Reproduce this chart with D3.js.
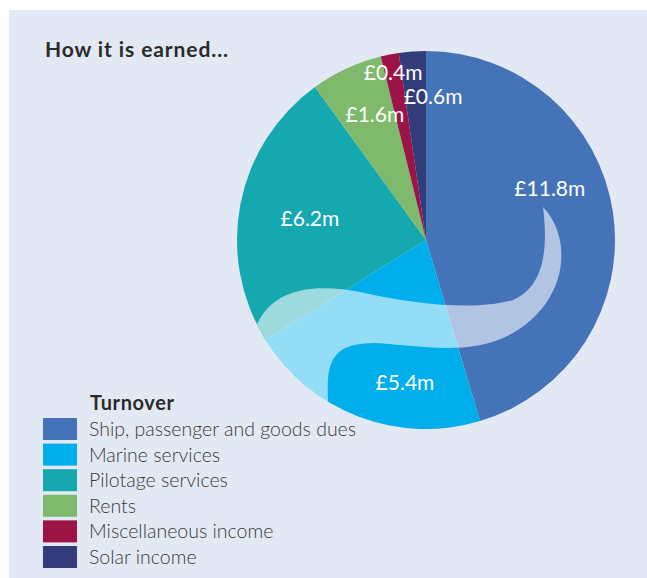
<!DOCTYPE html>
<html>
<head>
<meta charset="utf-8">
<script src="https://cdn.jsdelivr.net/npm/d3@7"></script>
<style>
  body { margin: 0; background: #fff; }
  svg { display: block; }
</style>
</head>
<body>
<svg id="chart" width="647" height="578"></svg>
<script>
const categories = [
  'Ship, passenger and goods dues',
  'Marine services',
  'Pilotage services',
  'Rents',
  'Miscellaneous income',
  'Solar income'
]
const values = [11.8, 5.4, 6.2, 1.6, 0.4, 0.6]
const labels = ['£11.8m', '£5.4m', '£6.2m', '£1.6m', '£0.4m', '£0.6m']
const colors = ['#4573b8', '#00aeeb', '#16a8af', '#7fba6c', '#9b1445', '#323c7a']

// where each value label sits: fraction of radius, and shift of angle within its slice
const labelRadius = [0.71, 0.765, 0.625, 0.714, 0.905, 0.757]
const labelAngleShift = [-0.088, -0.166, -0.005, 0.12, 0, 0.84]

const CX = 426
const CY = 240
const R = 189
const FONT = 'Lato, "Open Sans", sans-serif'

const svg = d3.select('#chart')

svg.append('rect')
  .attr('x', 9).attr('y', 10)
  .attr('width', 638).attr('height', 568)
  .attr('fill', '#e3e9f4')

svg.append('text')
  .attr('x', 45).attr('y', 57)
  .attr('font-family', FONT)
  .attr('font-weight', 700)
  .attr('font-size', 21)
  .attr('letter-spacing', 0.9)
  .attr('fill', '#2b2b2b')
  .text('How it is earned...')

const pie = d3.pie().sort(null).value((d) => d)
const arcs = pie(values)
const arc = d3.arc().innerRadius(0).outerRadius(R)

const g = svg.append('g').attr('transform', `translate(${CX},${CY})`)

g.selectAll('path.slice')
  .data(arcs)
  .enter()
  .append('path')
  .attr('class', 'slice')
  .attr('d', arc)
  .attr('fill', (d, i) => colors[i])

// decorative swoosh, clipped to the pie
svg.append('clipPath').attr('id', 'pieClip')
  .append('circle').attr('cx', 0).attr('cy', 0).attr('r', R)

const s = (x, y) => [x - CX, y - CY]
const wave = d3.path()
wave.moveTo(...s(543, 207))
wave.bezierCurveTo(...s(547, 240), ...s(548, 285), ...s(513, 300))
wave.bezierCurveTo(...s(480, 310), ...s(420, 306), ...s(360, 292))
wave.bezierCurveTo(...s(320, 284), ...s(270, 285), ...s(255, 330))
wave.lineTo(...s(250, 360))
wave.lineTo(...s(320, 420))
wave.lineTo(...s(328, 400))
wave.bezierCurveTo(...s(326, 360), ...s(333, 343), ...s(375, 343))
wave.bezierCurveTo(...s(420, 345), ...s(480, 360), ...s(525, 325))
wave.bezierCurveTo(...s(570, 290), ...s(570, 235), ...s(543, 207))
wave.closePath()

g.append('path')
  .attr('d', wave.toString())
  .attr('clip-path', 'url(#pieClip)')
  .attr('fill', '#ffffff')
  .attr('fill-opacity', 0.58)

g.selectAll('text.value')
  .data(arcs)
  .enter()
  .append('text')
  .attr('class', 'value')
  .attr('transform', (d, i) => {
    const a = d.startAngle + (d.endAngle - d.startAngle) * (0.5 + labelAngleShift[i])
    const r = R * labelRadius[i]
    return `translate(${Math.sin(a) * r},${-Math.cos(a) * r})`
  })
  .attr('text-anchor', 'middle')
  .attr('dy', '0.35em')
  .attr('font-family', FONT)
  .attr('font-size', 21)
  .attr('fill', '#ffffff')
  .text((d, i) => labels[i])

const legend = svg.append('g').attr('transform', 'translate(43,418)')

legend.append('text')
  .attr('x', 47).attr('y', -8)
  .attr('font-family', FONT)
  .attr('font-weight', 700)
  .attr('font-size', 20)
  .attr('letter-spacing', 0.6)
  .attr('fill', '#2b2b2b')
  .text('Turnover')

const rows = legend.selectAll('g.row')
  .data(categories)
  .enter()
  .append('g')
  .attr('class', 'row')
  .attr('transform', (d, i) => `translate(0,${i * 25.6})`)

rows.append('rect')
  .attr('width', 34).attr('height', 22)
  .attr('fill', (d, i) => colors[i])

rows.append('text')
  .attr('x', 46).attr('y', 18)
  .attr('font-family', FONT)
  .attr('font-weight', 300)
  .attr('font-size', 19.5)
  .attr('fill', '#3a3a3a')
  .text((d) => d)
</script>
</body>
</html>
